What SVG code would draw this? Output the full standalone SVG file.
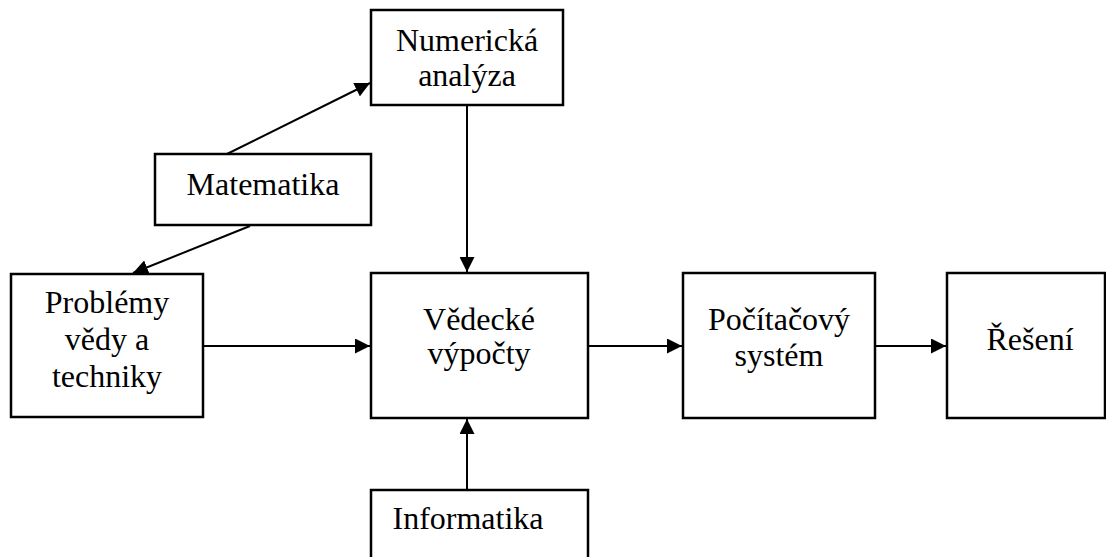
<svg xmlns="http://www.w3.org/2000/svg" width="1106" height="557" viewBox="0 0 1106 557">
<defs>
<marker id="ah" markerWidth="15" markerHeight="15" refX="15" refY="7.5" orient="auto" markerUnits="userSpaceOnUse">
<path d="M0,0 L15,7.5 L0,15 Z" fill="#000"/>
</marker>
<style>
.box{fill:#fff;stroke:#000;stroke-width:2.5}
.t{font-family:"Liberation Serif","Times New Roman",serif;font-size:32px;fill:#000;text-anchor:middle}
.c{stroke:#000;stroke-width:2;fill:none;marker-end:url(#ah)}
</style>
</defs>
<rect width="1106" height="557" fill="#fff"/>
<g id="connectors">
<line class="c" x1="227" y1="154" x2="370" y2="83"/>
<line class="c" x1="250" y1="226" x2="133" y2="273"/>
<line class="c" x1="467" y1="105" x2="467" y2="272"/>
<line class="c" x1="467" y1="490" x2="467" y2="419"/>
<line class="c" x1="203" y1="346" x2="370" y2="346"/>
<line class="c" x1="588" y1="346" x2="682" y2="346"/>
<line class="c" x1="875" y1="346" x2="946" y2="346"/>
</g>
<g id="numericka">
<rect class="box" x="371" y="10" width="192" height="95"/>
<text class="t" x="467" y="51">Numerická</text>
<text class="t" x="467" y="86">analýza</text>
</g>
<g id="matematika">
<rect class="box" x="155" y="154" width="216" height="71"/>
<text class="t" x="263" y="195">Matematika</text>
</g>
<g id="problemy">
<rect class="box" x="11" y="274" width="192" height="143"/>
<text class="t" x="107" y="313">Problémy</text>
<text class="t" x="107" y="350">vědy a</text>
<text class="t" x="107" y="387">techniky</text>
</g>
<g id="vedecke">
<rect class="box" x="371" y="273" width="217" height="145"/>
<text class="t" x="479" y="330">Vědecké</text>
<text class="t" x="479" y="364">výpočty</text>
</g>
<g id="pocitacovy">
<rect class="box" x="683" y="273" width="192" height="145"/>
<text class="t" x="779" y="330">Počítačový</text>
<text class="t" x="779" y="366">systém</text>
</g>
<g id="reseni">
<rect class="box" x="947" y="273" width="158" height="145"/>
<text class="t" x="1030" y="350">Řešení</text>
</g>
<g id="informatika">
<rect class="box" x="371" y="490" width="217" height="80"/>
<text class="t" x="468" y="529">Informatika</text>
</g>
</svg>
